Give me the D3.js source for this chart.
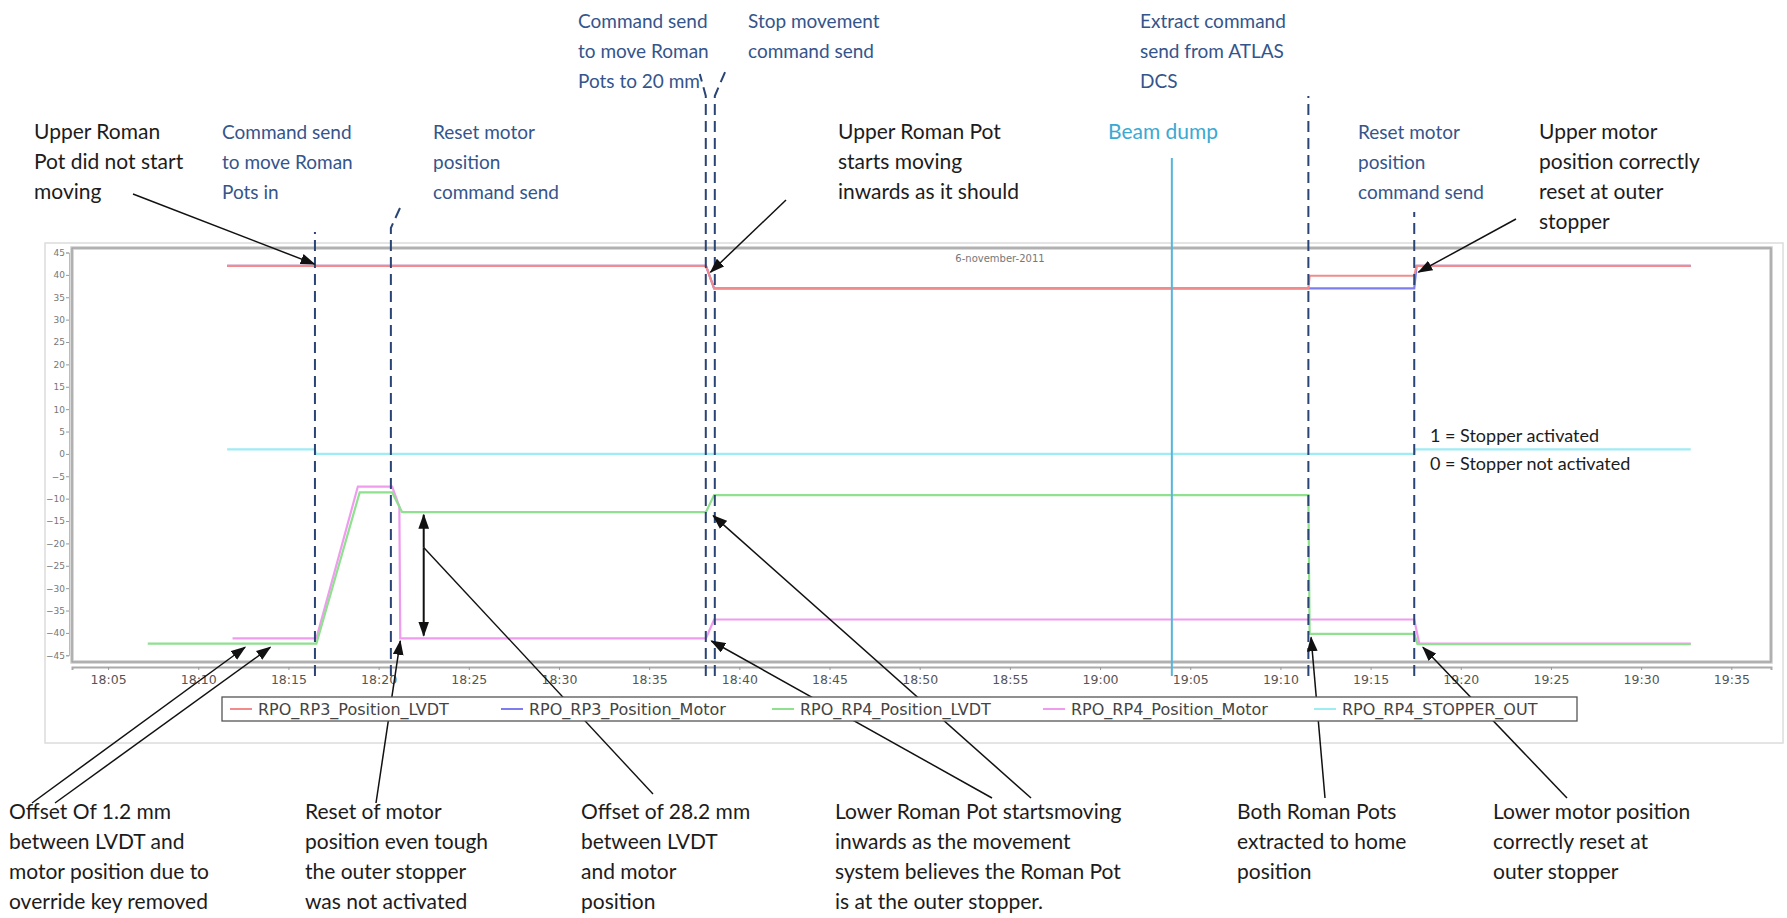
<!DOCTYPE html>
<html>
<head>
<meta charset="utf-8">
<script src="https://cdn.jsdelivr.net/npm/d3@7"></script>
<style>
  body { margin: 0; background: #fff; }
  svg { display: block; }
  .note { font-family: Lato, "Open Sans", sans-serif; font-size: 21px; }
</style>
</head>
<body>
<div id="chart"></div>
<script>
// time = minutes after 18:00 on 6 Nov 2011, value = position in mm
const rp3Lvdt = [[11.6, 42], [38.15, 42], [38.6, 37], [71.55, 37], [71.62, 39.8], [77.42, 39.8], [77.55, 42], [92.75, 42]];
const rp3Motor = [[11.6, 42], [38.15, 42], [38.6, 37], [77.42, 37], [77.55, 42], [92.75, 42]];
const rp4Lvdt = [[7.2, -42.4], [16.55, -42.4], [18.95, -8.6], [20.75, -8.6], [21.3, -13], [38.15, -13], [38.6, -9.2],
  [71.55, -9.2], [71.62, -40.2], [77.42, -40.2], [77.6, -42.5], [92.75, -42.5]];
const rp4Motor = [[11.9, -41.2], [16.55, -41.2], [18.85, -7.3], [20.75, -7.3], [21.15, -11.8], [21.2, -41.2],
  [38.15, -41.2], [38.6, -37], [77.42, -37], [77.7, -42.4], [92.75, -42.4]];
const stopperOut = [[11.6, 1], [16.47, 1], [16.52, 0], [77.42, 0], [77.47, 1], [92.75, 1]];

const seriesNames = ['RPO_RP3_Position_LVDT', 'RPO_RP3_Position_Motor', 'RPO_RP4_Position_LVDT', 'RPO_RP4_Position_Motor', 'RPO_RP4_STOPPER_OUT'];
const seriesData = [rp3Lvdt, rp3Motor, rp4Lvdt, rp4Motor, stopperOut];
const seriesColors = ['#f28c8c', '#7d7df0', '#8fe08f', '#ef9cef', '#9eecf4'];
const drawOrder = [1, 0, 3, 2, 4];

const yTicks = d3.range(-45, 50, 5);
const dateLabel = '6-november-2011';

// dashed command markers (minutes)
const commandTimes = [16.47, 20.68, 38.14, 38.64, 71.55, 77.42];
const beamDumpTime = 63.98;

// annotation arrows: tail in page pixels, tip in (minutes, mm)
const arrows = [
  { from: [133, 194], to: [16.45, 42.4] },
  { from: [786, 200], to: [38.4, 40.6] },
  { from: [1516, 219], to: [77.65, 40.6] },
  { from: [32, 803], to: [12.6, -43.2] },
  { from: [55, 803], to: [14.0, -43.2] },
  { from: [376, 803], to: [21.2, -41.8] },
  { from: [992, 798], to: [38.45, -41.8] },
  { from: [1031, 798], to: [38.55, -13.8] },
  { from: [1325, 798], to: [71.7, -41.0] },
  { from: [1567, 798], to: [77.9, -43.2] },
];

const blue = '#34558c', black = '#1c1c1c', teal = '#3aa9d2';
const notes = [
  { x: 578, y: 28, c: blue, lines: ['Command send', 'to move Roman', 'Pots to 20 mm'] },
  { x: 748, y: 28, c: blue, lines: ['Stop movement', 'command send'] },
  { x: 1140, y: 28, c: blue, lines: ['Extract command', 'send from ATLAS', 'DCS'] },
  { x: 34, y: 139, c: black, lines: ['Upper Roman', 'Pot did not start', 'moving'] },
  { x: 222, y: 139, c: blue, lines: ['Command send', 'to move Roman', 'Pots in'] },
  { x: 433, y: 139, c: blue, lines: ['Reset motor', 'position', 'command send'] },
  { x: 838, y: 139, c: black, lines: ['Upper Roman Pot', 'starts moving', 'inwards as it should'] },
  { x: 1108, y: 139, c: teal, lines: ['Beam dump'] },
  { x: 1358, y: 139, c: blue, lines: ['Reset motor', 'position', 'command send'] },
  { x: 1539, y: 139, c: black, lines: ['Upper motor', 'position correctly', 'reset at outer', 'stopper'] },
  { x: 9, y: 819, c: black, lines: ['Offset Of 1.2 mm', 'between LVDT and', 'motor position due to', 'override key removed'] },
  { x: 305, y: 819, c: black, lines: ['Reset of motor', 'position even tough', 'the outer stopper', 'was not activated'] },
  { x: 581, y: 819, c: black, lines: ['Offset of 28.2 mm', 'between LVDT', 'and motor', 'position'] },
  { x: 835, y: 819, c: black, lines: ['Lower Roman Pot startsmoving', 'inwards as the movement', 'system believes the Roman Pot', 'is at the outer stopper.'] },
  { x: 1237, y: 819, c: black, lines: ['Both Roman Pots', 'extracted to home', 'position'] },
  { x: 1493, y: 819, c: black, lines: ['Lower motor position', 'correctly reset at', 'outer stopper'] },
];

const width = 1787, height = 918;
const base = new Date(2011, 10, 6, 18, 0);
const t = m => new Date(base.getTime() + m * 60000);

const frame = { left: 72, right: 1771, top: 248, bottom: 662 };
const x = d3.scaleTime().domain([t(3), t(97.2)]).range([frame.left, frame.right]);
const y = d3.scaleLinear().domain([-45, 45]).range([655.3, 252.5]);

const svg = d3.select('#chart').append('svg')
  .attr('width', width)
  .attr('height', height);

const defs = svg.append('defs');
defs.append('marker')
  .attr('id', 'head')
  .attr('markerUnits', 'userSpaceOnUse')
  .attr('viewBox', '0 0 14 10')
  .attr('refX', 13).attr('refY', 5)
  .attr('markerWidth', 15).attr('markerHeight', 11)
  .attr('orient', 'auto-start-reverse')
  .append('path')
  .attr('d', 'M0,0 L14,5 L0,10 Z')
  .attr('fill', '#111');

// outer panel and plot frame
svg.append('rect')
  .attr('x', 45).attr('y', 243).attr('width', 1738).attr('height', 500)
  .attr('fill', 'none').attr('stroke', '#dcdcdc').attr('stroke-width', 1.5);
svg.append('rect')
  .attr('x', frame.left).attr('y', frame.top)
  .attr('width', frame.right - frame.left).attr('height', frame.bottom - frame.top)
  .attr('fill', '#fff').attr('stroke', '#cdcdcd').attr('stroke-width', 3.5);
svg.append('rect')
  .attr('x', frame.left).attr('y', frame.top)
  .attr('width', frame.right - frame.left).attr('height', frame.bottom - frame.top)
  .attr('fill', 'none').attr('stroke', '#9a9a9a').attr('stroke-width', 1.1);

// axes
const yAxis = svg.append('g')
  .attr('transform', `translate(${frame.left - 3},0)`)
  .call(d3.axisLeft(y).tickValues(yTicks).tickSize(3).tickPadding(1));
yAxis.select('.domain').attr('stroke', '#bbb');
yAxis.selectAll('.tick line').attr('stroke', '#999');
yAxis.selectAll('text').attr('fill', '#777').attr('font-size', 9).attr('font-family', 'DejaVu Sans');

const xAxis = svg.append('g')
  .attr('transform', `translate(0,${frame.bottom + 5})`)
  .call(d3.axisBottom(x).ticks(d3.timeMinute.every(5)).tickFormat(d3.timeFormat('%H:%M')).tickSize(3).tickPadding(5));
xAxis.select('.domain').attr('stroke', '#aaa').attr('stroke-width', 2);
xAxis.selectAll('.tick line').attr('stroke', '#999');
xAxis.selectAll('text').attr('fill', '#555').attr('font-size', 12.5).attr('font-family', 'DejaVu Sans');

svg.append('text')
  .attr('x', 1000).attr('y', 262)
  .attr('text-anchor', 'middle')
  .attr('font-family', 'DejaVu Sans').attr('font-size', 10).attr('fill', '#777')
  .text(dateLabel);

// series
const line = d3.line().x(d => x(t(d[0]))).y(d => y(d[1]));
svg.append('g')
  .attr('fill', 'none')
  .selectAll('path')
  .data(drawOrder)
  .join('path')
  .attr('stroke', i => seriesColors[i])
  .attr('stroke-width', 2.2)
  .attr('d', i => line(seriesData[i]));

// beam dump marker
svg.append('line')
  .attr('x1', x(t(beamDumpTime))).attr('x2', x(t(beamDumpTime)))
  .attr('y1', 158).attr('y2', 676)
  .attr('stroke', '#55b5dc').attr('stroke-width', 2);

// dashed command markers, with a short slanted lead into the label for some
const markerTops = [232, 228, 96, 96, 96, 212];
const leads = [null, [10, -22], [-6, -22], [12, -28], null, null];
const dashed = svg.append('g')
  .attr('stroke', '#2a4475').attr('stroke-width', 2).attr('stroke-dasharray', '11,6').attr('fill', 'none');
commandTimes.forEach((m, i) => {
  const xp = x(t(m));
  const pts = [[xp, 676], [xp, markerTops[i]]];
  if (leads[i]) pts.push([xp + leads[i][0], markerTops[i] + leads[i][1]]);
  dashed.append('path').attr('d', d3.line()(pts));
});

// double-headed offset arrow and its leader
const offX = x(t(22.5));
svg.append('line')
  .attr('x1', offX).attr('x2', offX)
  .attr('y1', y(-20.9)).attr('y2', y(-13.6))
  .attr('stroke', '#111').attr('stroke-width', 2).attr('marker-end', 'url(#head)');
svg.append('line')
  .attr('x1', offX).attr('x2', offX)
  .attr('y1', y(-20.9)).attr('y2', y(-40.6))
  .attr('stroke', '#111').attr('stroke-width', 2).attr('marker-end', 'url(#head)');
svg.append('line')
  .attr('x1', offX).attr('y1', y(-20.9))
  .attr('x2', 653).attr('y2', 794)
  .attr('stroke', '#111').attr('stroke-width', 1.4);

svg.append('g')
  .selectAll('line')
  .data(arrows)
  .join('line')
  .attr('x1', d => d.from[0]).attr('y1', d => d.from[1])
  .attr('x2', d => x(t(d.to[0]))).attr('y2', d => y(d.to[1]))
  .attr('stroke', '#111').attr('stroke-width', 1.5)
  .attr('marker-end', 'url(#head)');

// legend
const legend = svg.append('g').attr('transform', 'translate(222,697)');
legend.append('rect')
  .attr('width', 1355).attr('height', 24)
  .attr('fill', '#fff').attr('stroke', '#555').attr('stroke-width', 1.3);
const entry = legend.selectAll('g.entry')
  .data(seriesNames)
  .join('g')
  .attr('class', 'entry')
  .attr('transform', (d, i) => `translate(${8 + i * 271},12)`);
entry.append('line')
  .attr('x1', 0).attr('x2', 22)
  .attr('stroke', (d, i) => seriesColors[i]).attr('stroke-width', 2);
entry.append('text')
  .attr('x', 28).attr('dy', '0.36em')
  .attr('font-family', 'DejaVu Sans').attr('font-size', 16).attr('fill', '#444')
  .text(d => d);

// stopper key
svg.append('g')
  .attr('class', 'note')
  .attr('fill', black)
  .selectAll('text')
  .data(['1 = Stopper activated', '0 = Stopper not activated'])
  .join('text')
  .attr('x', 1430).attr('y', (d, i) => 442 + i * 28)
  .style('font-size', '18px')
  .text(d => d);

// annotation text; the blue command labels are set a little smaller
const noteG = svg.append('g').attr('class', 'note');
notes.forEach(n => {
  noteG.append('text')
    .attr('fill', n.c)
    .style('font-size', n.c === blue ? '19px' : null)
    .selectAll('tspan')
    .data(n.lines)
    .join('tspan')
    .attr('x', n.x)
    .attr('y', (d, i) => n.y + i * 30)
    .text(d => d);
});
</script>
</body>
</html>
